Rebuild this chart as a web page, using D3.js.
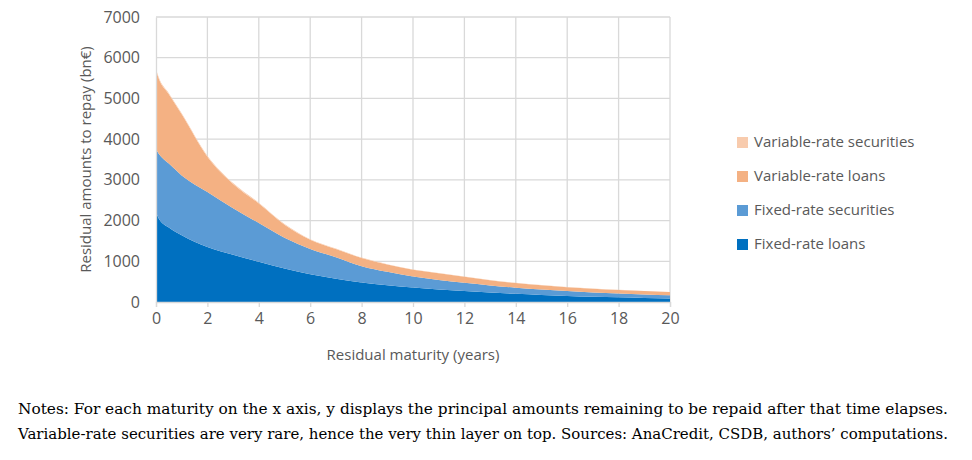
<!DOCTYPE html>
<html lang="en">
<head>
<meta charset="UTF-8">
<script src="https://cdnjs.cloudflare.com/ajax/libs/d3/7.8.5/d3.min.js"></script>
<style>
  body { margin: 0; background: #fff; }
  svg text { font-family: "Open Sans", "Liberation Sans", sans-serif; fill: #595959; }
  .notes { font-family: "DejaVu Serif", "Liberation Serif", serif; fill: #000; font-size: 14.5px; }
</style>
</head>
<body>
<svg width="972" height="460"></svg>
<script>
// Residual maturity in years
const years = [0, 0.1, 0.5, 1, 2, 3, 4, 5, 6, 7, 8, 9, 10, 11, 12, 13, 14, 15, 16, 17, 18, 19, 20];
// Layer amounts (bn€)
const fixedLoans = [2210, 2060, 1830, 1640, 1350, 1160, 990, 820, 680, 570, 480, 410, 354, 310, 270, 235, 200, 175, 150, 130, 115, 100, 85];
const fixedSecurities = [1540, 1590, 1570, 1470, 1350, 1140, 950, 760, 620, 530, 400, 330, 271, 230, 200, 170, 150, 130, 120, 105, 95, 85, 80];
const variableLoans = [1950, 1850, 1700, 1500, 870, 600, 480, 320, 230, 200, 200, 180, 165, 165, 150, 130, 115, 105, 95, 90, 85, 85, 80];
const variableSecurities = [30, 30, 28, 25, 22, 20, 18, 16, 14, 12, 10, 9, 8, 7, 6, 6, 5, 5, 4, 4, 3, 3, 3];
const series = ["Fixed-rate loans", "Fixed-rate securities", "Variable-rate loans", "Variable-rate securities"];
const colors = ["#0070C0", "#5B9BD5", "#F4B183", "#F8CBAD"];
const xTicks = d3.range(0, 21, 2);
const yTicks = d3.range(0, 7001, 1000);

const rows = years.map((y, i) => ({
  year: y,
  [series[0]]: fixedLoans[i],
  [series[1]]: fixedSecurities[i],
  [series[2]]: variableLoans[i],
  [series[3]]: variableSecurities[i]
}));

const svg = d3.select("svg");
const x = d3.scaleLinear().domain([0, 20]).range([156, 670]);
const y = d3.scaleLinear().domain([0, 7000]).range([302, 17]);

// grid
svg.append("g").selectAll("line").data(yTicks.slice(1)).join("line")
  .attr("x1", x(0)).attr("x2", x(20)).attr("y1", d => y(d)).attr("y2", d => y(d))
  .attr("stroke", "#d9d9d9").attr("stroke-width", 1.3);
svg.append("g").selectAll("line").data(xTicks.slice(1)).join("line")
  .attr("x1", d => x(d)).attr("x2", d => x(d)).attr("y1", y(0)).attr("y2", y(7000))
  .attr("stroke", "#d9d9d9").attr("stroke-width", 1.3);

const stack = d3.stack().keys(series)(rows);
const area = d3.area().x(d => x(d.data.year)).y0(d => y(d[0])).y1(d => y(d[1])).curve(d3.curveMonotoneX);
svg.append("g").selectAll("path").data(stack).join("path")
  .attr("d", area).attr("fill", (d, i) => colors[i]);

// axes
const xAxis = svg.append("g").attr("transform", `translate(0,${y(0)})`)
  .call(d3.axisBottom(x).tickValues(xTicks).tickSize(5).tickPadding(6));
xAxis.select(".domain").attr("stroke", "#d9d9d9").attr("stroke-width", 1.3);
xAxis.selectAll(".tick line").attr("stroke", "#d9d9d9").attr("stroke-width", 1.3);
xAxis.selectAll("text").attr("font-size", 16).attr("fill", "#595959");

const yAxis = svg.append("g").attr("transform", `translate(${x(0)},0)`)
  .call(d3.axisLeft(y).tickValues(yTicks).tickFormat(d3.format("d")).tickSize(0).tickPadding(16));
yAxis.select(".domain").attr("stroke", "#d9d9d9").attr("stroke-width", 1.3);
yAxis.selectAll("text").attr("font-size", 16).attr("fill", "#595959");

svg.append("text").attr("x", (x(0) + x(20)) / 2).attr("y", 360).attr("text-anchor", "middle")
  .attr("font-size", 15).text("Residual maturity (years)");
svg.append("text").attr("transform", `translate(91,${(y(0) + y(7000)) / 2}) rotate(-90)`)
  .attr("text-anchor", "middle").attr("font-size", 15).text("Residual amounts to repay (bn€)");

// legend (top item first)
const legend = svg.append("g").selectAll("g").data(series.slice().reverse()).join("g")
  .attr("transform", (d, i) => `translate(737,${142 + i * 34})`);
legend.append("rect").attr("width", 11).attr("height", 11).attr("y", -5)
  .attr("fill", d => colors[series.indexOf(d)]);
legend.append("text").attr("x", 17).attr("y", 0).attr("dy", "0.35em").attr("font-size", 15).text(d => d);

// notes
const notes = [
  "Notes: For each maturity on the x axis, y displays the principal amounts remaining to be repaid after that time elapses.",
  "Variable-rate securities are very rare, hence the very thin layer on top. Sources: AnaCredit, CSDB, authors’ computations."
];
svg.selectAll(".notes").data(notes).join("text").attr("class", "notes")
  .attr("x", 18).attr("y", (d, i) => 414 + i * 25).attr("textLength", 930).attr("lengthAdjust", "spacingAndGlyphs").text(d => d);
</script>
</body>
</html>
